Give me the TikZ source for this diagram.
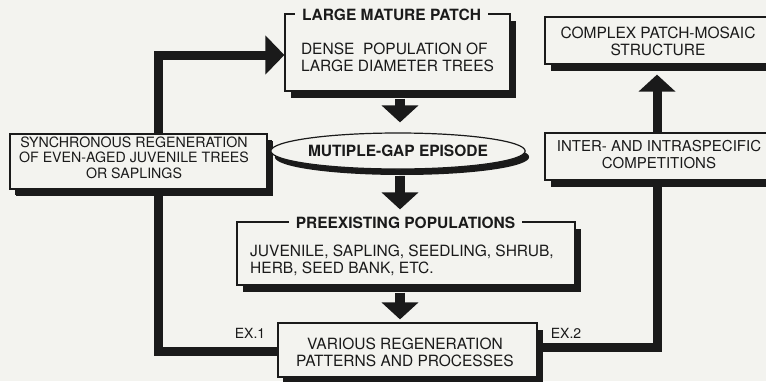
\documentclass[tikz,border=0pt]{standalone}
\usepackage{fontspec}
\setmainfont{TeX Gyre Heros}
\usetikzlibrary{arrows.meta,shapes.geometric,shadows}
\definecolor{bg}{RGB}{243,243,239}
\definecolor{ink}{RGB}{26,26,26}
\pgfdeclarelayer{back}
\pgfdeclarelayer{loops}
\pgfsetlayers{back,loops,main}
\begin{document}
\begin{tikzpicture}[x=1pt,y=-1pt,
  every node/.style={text=ink},
  boxs/.style={draw=ink, line width=1.2pt, fill=bg, inner sep=0pt,
    general shadow={fill=ink, shadow xshift=6pt, shadow yshift=-7pt}},
  ttl/.style={fill=bg, inner xsep=7pt, inner ysep=1pt,
    font=\bfseries\fontsize{15.5}{17}\selectfont},
  body/.style={inner sep=0pt, font=\fontsize{15.5}{17}\selectfont},
  small/.style={inner sep=0pt, font=\fontsize{14.2}{15.5}\selectfont},
  exl/.style={inner sep=0pt, font=\fontsize{14}{15}\selectfont},
  bigarrow/.style={draw=ink, line width=10pt,
    -{Triangle[width=36pt,length=17pt]}},
  looparrow/.style={draw=ink, line width=9pt, line join=miter,
    -{Triangle[width=38pt,length=19pt]}},
]
\useasboundingbox (0,0) rectangle (766,381);
\clip (0,0) rectangle (766,381);
\begin{pgfonlayer}{back}
\fill[bg] (0,0) rectangle (766,381);
\end{pgfonlayer}

\coordinate (ax) at (400,0);
\coordinate (lx) at (158,0);
\coordinate (rx) at (657,0);

% large mature patch
\node[boxs, minimum width=225pt, minimum height=77pt] (large) at (397.5,52.5) {};
\node[ttl] (largetitle) at (391.5,14.5) {LARGE MATURE PATCH};
\node[body, align=left] (largetext) at (397.5,57.5) {DENSE\ \ POPULATION OF\\LARGE DIAMETER TREES};

% complex patch-mosaic
\node[boxs, minimum width=230pt, minimum height=47pt,
  general shadow={fill=ink, shadow xshift=6pt, shadow yshift=-5pt}] (complex) at (660,40.5) {};
\node[body, align=center] (complextext) at (658,41.5) {COMPLEX PATCH-MOSAIC\\STRUCTURE};

% synchronous regeneration
\node[boxs, minimum width=257pt, minimum height=55pt,
  general shadow={fill=ink, shadow xshift=5pt, shadow yshift=-6pt}] (sync) at (138.5,161.5) {};
\node[small, align=center] (synctext) at (134,157.5) {SYNCHRONOUS REGENERATION\\OF EVEN-AGED JUVENILE TREES\\OR SAPLINGS};

% ellipse
\node[ellipse, draw=ink, line width=1.2pt, fill=bg, minimum width=248pt,
  minimum height=36pt, inner sep=0pt,
  general shadow={fill=ink, shadow xshift=4pt, shadow yshift=-6pt},
  font=\bfseries\fontsize{15.5}{17}\selectfont] (ell) at (398,151) {MUTIPLE-GAP EPISODE};

% inter- and intraspecific
\node[boxs, minimum width=230pt, minimum height=47pt,
  general shadow={fill=ink, shadow xshift=6pt, shadow yshift=-5pt}] (inter) at (660,156.5) {};
\node[body, align=center, font=\fontsize{15}{16.5}\selectfont] (intertext) at (659,154.5) {INTER- AND INTRASPECIFIC\\COMPETITIONS};

% preexisting populations
\node[boxs, minimum width=338pt, minimum height=63pt] (pre) at (406,253.5) {};
\node[ttl] (pretitle) at (405.5,222.5) {PREEXISTING POPULATIONS};
\node[body, align=left] (pretext) at (402,260) {JUVENILE, SAPLING, SEEDLING, SHRUB,\\HERB, SEED BANK, ETC.};

% various regeneration
\node[boxs, minimum width=259pt, minimum height=54pt,
  general shadow={fill=ink, shadow xshift=5pt, shadow yshift=-7pt}] (various) at (407.5,350) {};
\node[body, align=center] (varioustext) at (405,352) {VARIOUS REGENERATION\\PATTERNS AND PROCESSES};

% labels
\node[exl] (ex1) at (250,333) {EX.1};
\node[exl] (ex2) at (566,333) {EX.2};

% central arrows
\draw[bigarrow] ([yshift=-7pt]large.south -| ax) -- ([yshift=10pt]ell.north -| ax);
\draw[bigarrow] ([yshift=-6pt]ell.south -| ax) -- ([yshift=12pt]pre.north -| ax);
\draw[bigarrow] ([yshift=-7pt]pre.south -| ax) -- ([yshift=3pt]various.north -| ax);

% feedback loops
\begin{pgfonlayer}{loops}
\draw[looparrow] ([yshift=-1pt]various.west) -| ([yshift=-2.5pt]large.west -| lx) -- ([yshift=-2.5pt]large.west);
\draw[looparrow, -{Triangle[width=36pt,length=17pt]}] ([yshift=3pt]various.east) -| ([yshift=-10pt]complex.south -| rx);
\end{pgfonlayer}
\end{tikzpicture}
\end{document}
